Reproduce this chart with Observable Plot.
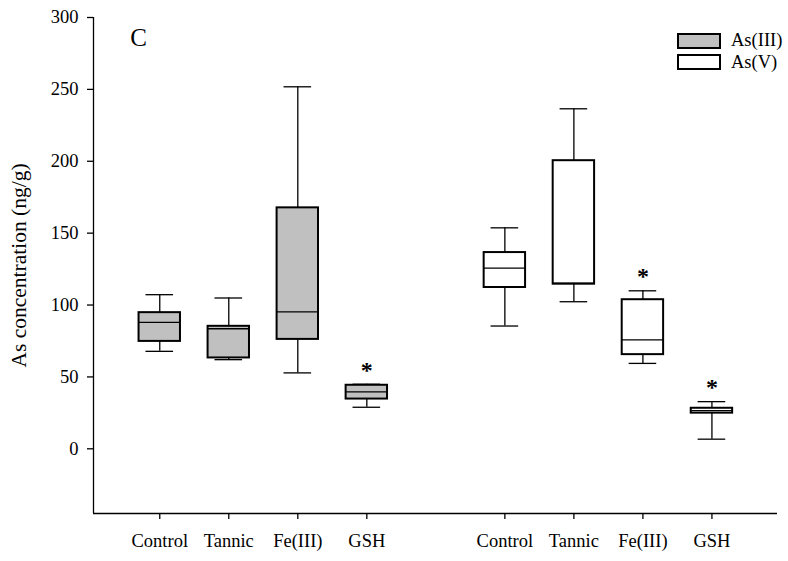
<!DOCTYPE html>
<html>
<head>
<meta charset="utf-8">
<script src="https://cdn.jsdelivr.net/npm/d3@7"></script>
<script src="https://cdn.jsdelivr.net/npm/@observablehq/plot@0.6"></script>
<style>
  html, body { margin: 0; padding: 0; background: #fff; }
  #wrap { position: relative; width: 788px; height: 561px; font-family: "Liberation Serif", "Times New Roman", serif; }
  #wrap svg text { font-family: "Liberation Serif", "Times New Roman", serif; }
  .legend { position: absolute; left: 677px; top: 30px; font-size: 18.5px; color: #000; }
  .legend .row { display: flex; align-items: center; height: 21.5px; }
  .legend .sw { width: 40px; height: 12px; border: 2px solid #000; margin-right: 10px; }
</style>
</head>
<body>
<div id="wrap"></div>
<script>
// ---- data ----
const categories = ["Control", "Tannic", "Fe(III)", "GSH"];
const species = ["As(III)", "As(V)"];
const speciesFill = ["#c0c0c0", "#ffffff"];

const as3WhiskerLow  = [67.8, 62.0, 52.8, 28.9];
const as3Q1          = [74.7, 63.2, 76.1, 34.6];
const as3Median      = [87.9, 83.5, 95.3, 39.6];
const as3Q3          = [94.7, 85.2, 167.6, 44.2];
const as3WhiskerHigh = [107.2, 104.9, 251.8, 44.9];
const as3Significant = [false, false, false, true];

const as5WhiskerLow  = [85.4, 102.3, 59.4, 6.7];
const as5Q1          = [112.2, 114.5, 65.5, 24.8];
const as5Median      = [125.7, 115.3, 75.7, 26.5];
const as5Q3          = [136.5, 200.4, 103.7, 28.2];
const as5WhiskerHigh = [153.7, 236.5, 109.9, 32.8];
const as5Significant = [false, false, true, true];

const yTicks = [0, 50, 100, 150, 200, 250, 300];
const yLabel = "As concentration (ng/g)";
const panelLabel = "C";

// ---- build table ----
const series = [
  {lo: as3WhiskerLow, q1: as3Q1, med: as3Median, q3: as3Q3, hi: as3WhiskerHigh, sig: as3Significant},
  {lo: as5WhiskerLow, q1: as5Q1, med: as5Median, q3: as5Q3, hi: as5WhiskerHigh, sig: as5Significant}
];
const rows = [];
species.forEach((sp, si) => {
  categories.forEach((cat, ci) => {
    const s = series[si];
    rows.push({
      species: sp, category: cat, pos: si * 5 + ci + 1,
      lo: s.lo[ci], q1: s.q1[ci], med: s.med[ci], q3: s.q3[ci], hi: s.hi[ci], sig: s.sig[ci]
    });
  });
});
const positions = rows.map(d => d.pos);
const halfBox = 0.3, halfCap = 0.2;
const serif = "Liberation Serif";

const chart = Plot.plot({
  width: 788,
  height: 561,
  marginLeft: 93,
  marginRight: 11,
  marginTop: 17,
  marginBottom: 48,
  style: {fontFamily: "Liberation Serif, serif", fontSize: "18.5px", color: "#000", background: "#fff"},
  x: {domain: [0.04, 9.95], axis: null},
  y: {domain: [-45, 300], axis: null},
  color: {domain: species, range: speciesFill},
  marks: [
    // whiskers
    Plot.ruleX(rows, {x: "pos", y1: "q3", y2: "hi", stroke: "#000", strokeWidth: 1.3}),
    Plot.ruleX(rows, {x: "pos", y1: "lo", y2: "q1", stroke: "#000", strokeWidth: 1.3}),
    // caps
    Plot.ruleY(rows, {y: "hi", x1: d => d.pos - halfCap, x2: d => d.pos + halfCap, stroke: "#000", strokeWidth: 1.3}),
    Plot.ruleY(rows, {y: "lo", x1: d => d.pos - halfCap, x2: d => d.pos + halfCap, stroke: "#000", strokeWidth: 1.3}),
    // boxes
    Plot.rect(rows, {x1: d => d.pos - halfBox, x2: d => d.pos + halfBox, y1: "q1", y2: "q3", fill: "species", stroke: "#000", strokeWidth: 2}),
    // medians
    Plot.ruleY(rows, {y: "med", x1: d => d.pos - halfBox, x2: d => d.pos + halfBox, stroke: "#000", strokeWidth: 1.3}),
    // significance stars
    Plot.text(rows.filter(d => d.sig), {x: "pos", y: "hi", text: () => "*", dy: -14, fontSize: 24, fontWeight: "bold", lineAnchor: "middle", fontFamily: serif}),
    // axes
    Plot.ruleX([0.04], {stroke: "#000", strokeWidth: 1.3}),
    Plot.ruleY([-45], {stroke: "#000", strokeWidth: 1.3}),
    Plot.axisY({ticks: yTicks, tickSize: 6, tickPadding: 9, tickFormat: d => String(d), label: null, fontSize: 18.5, fontFamily: serif, strokeWidth: 1.3}),
    Plot.axisX({ticks: positions, tickSize: 6, tickPadding: 14, tickFormat: d => categories[(d - 1) % 5], label: null, fontSize: 18.5, fontFamily: serif, strokeWidth: 1.3}),
    // y label
    Plot.text([yLabel], {frameAnchor: "left", dx: -74, dy: 0, rotate: -90, textAnchor: "middle", lineAnchor: "middle", fontSize: 21.5, fontFamily: serif}),
    // panel label
    Plot.text([panelLabel], {frameAnchor: "top-left", dx: 45, dy: 20, textAnchor: "middle", lineAnchor: "middle", fontSize: 25, fontFamily: serif})
  ]
});

const wrap = document.getElementById("wrap");
wrap.appendChild(chart);

const legend = document.createElement("div");
legend.className = "legend";
species.forEach((sp, i) => {
  const row = document.createElement("div");
  row.className = "row";
  const sw = document.createElement("div");
  sw.className = "sw";
  sw.style.background = speciesFill[i];
  const lab = document.createElement("span");
  lab.textContent = sp;
  row.appendChild(sw);
  row.appendChild(lab);
  legend.appendChild(row);
});
wrap.appendChild(legend);
</script>
</body>
</html>
